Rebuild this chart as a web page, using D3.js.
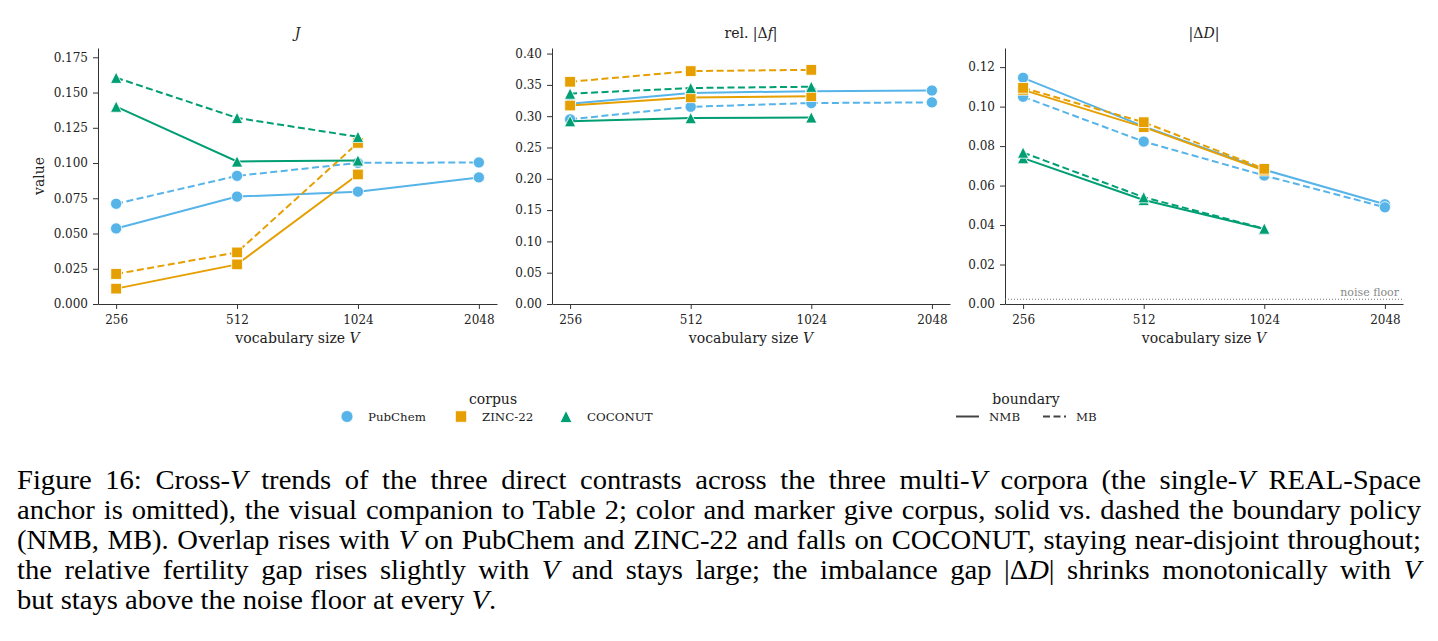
<!DOCTYPE html>
<html>
<head>
<meta charset="utf-8">
<script src="https://cdn.jsdelivr.net/npm/d3@7"></script>
<style>
  body { margin: 0; background: #fff; }
  text { font-family: "DejaVu Serif", serif; }
</style>
</head>
<body>
<svg id="fig" width="1438" height="641"></svg>
<script>
// ---- data ----
var vocab = [256, 512, 1024, 2048];
var corpora = ["PubChem", "ZINC-22", "COCONUT"];
var boundaries = ["NMB", "MB"];

// rows: PubChem, ZINC-22, COCONUT ; columns: 256, 512, 1024, 2048
var jNMB = [[0.0536, 0.0762, 0.0797, 0.0898], [0.0109, 0.0281, 0.0919, null], [0.1400, 0.1011, 0.1018, null]];
var jMB  = [[0.0711, 0.0909, 0.1001, 0.1004], [0.0213, 0.0366, 0.1143, null], [0.1605, 0.1320, 0.1186, null]];

var dfNMB = [[0.320, 0.337, 0.340, 0.341], [0.317, 0.330, 0.332, null], [0.292, 0.297, 0.298, null]];
var dfMB  = [[0.295, 0.315, 0.321, 0.322], [0.355, 0.372, 0.374, null], [0.336, 0.345, 0.347, null]];

var dDNMB = [[0.1146, 0.0900, 0.0680, 0.0505], [0.1085, 0.0896, 0.0676, null], [0.0739, 0.0527, 0.0380, null]];
var dDMB  = [[0.1050, 0.0823, 0.0651, 0.0490], [0.1095, 0.0921, 0.0685, null], [0.0767, 0.0541, 0.0382, null]];

var jTicks = [0, 0.025, 0.05, 0.075, 0.1, 0.125, 0.15, 0.175];
var dfTicks = [0, 0.05, 0.1, 0.15, 0.2, 0.25, 0.3, 0.35, 0.4];
var dDTicks = [0, 0.02, 0.04, 0.06, 0.08, 0.1, 0.12];
var noiseFloor = 0.0024;

var captionLines = [
  [["Figure 16: Cross-", 0], ["V", 1], [" trends of the three direct contrasts across the three multi-", 0], ["V", 1], [" corpora (the single-", 0], ["V", 1], [" REAL-Space", 0]],
  [["anchor is omitted), the visual companion to Table 2; color and marker give corpus, solid vs. dashed the boundary policy", 0]],
  [["(NMB, MB). Overlap rises with ", 0], ["V", 1], [" on PubChem and ZINC-22 and falls on COCONUT, staying near-disjoint throughout;", 0]],
  [["the relative fertility gap rises slightly with ", 0], ["V", 1], [" and stays large; the imbalance gap |\u0394", 0], ["D", 1], ["| shrinks monotonically with ", 0], ["V", 1]],
  [["but stays above the noise floor at every ", 0], ["V", 1], [".", 0]]
];

// ---- style ----
var colors = ["#56B4E9", "#E69F00", "#009E73"];
var axisColor = "#333";

var svg = d3.select("#fig");
svg.append("rect").attr("width", 1438).attr("height", 641).attr("fill", "#fff");

function marker(g, i, cx, cy, s) {
  if (i === 0) {
    g.append("circle").attr("cx", cx).attr("cy", cy).attr("r", s)
      .attr("fill", colors[i]).attr("stroke", "#fff").attr("stroke-width", 0.8);
  } else if (i === 1) {
    g.append("rect").attr("x", cx - s * 0.95).attr("y", cy - s * 0.95)
      .attr("width", s * 1.9).attr("height", s * 1.9)
      .attr("fill", colors[i]).attr("stroke", "#fff").attr("stroke-width", 0.8);
  } else {
    g.append("path")
      .attr("d", "M" + cx + "," + (cy - s) + "L" + (cx - s) + "," + (cy + s) + "L" + (cx + s) + "," + (cy + s) + "Z")
      .attr("fill", colors[i]).attr("stroke", "#fff").attr("stroke-width", 0.8);
  }
}

var panels = [
  { title: [["J", 1]], nmb: jNMB, mb: jMB, ymax: 0.1816, ticks: jTicks, fmt: ".3f", x0: 98, x1: 497, ylabel: true },
  { title: [["rel. |\u0394", 0], ["f", 1], ["|", 0]], nmb: dfNMB, mb: dfMB, ymax: 0.4089, ticks: dfTicks, fmt: ".2f", x0: 552, x1: 950 },
  { title: [["|\u0394", 0], ["D", 1], ["|", 0]], nmb: dDNMB, mb: dDMB, ymax: 0.1297, ticks: dDTicks, fmt: ".2f", x0: 1005, x1: 1403, noise: true }
];

var yTop = 48, yBot = 304;

panels.forEach(function(p) {
  var x = d3.scaleLog().base(2)
    .domain([256 / Math.pow(2, 0.15), 2048 * Math.pow(2, 0.15)])
    .range([p.x0, p.x1]);
  var y = d3.scaleLinear().domain([0, p.ymax]).range([yBot, yTop]);

  var g = svg.append("g");

  var xAxis = d3.axisBottom(x).tickValues(vocab).tickFormat(d3.format("d"))
    .tickSize(5).tickSizeOuter(0).tickPadding(6);
  var yAxis = d3.axisLeft(y).tickValues(p.ticks).tickFormat(d3.format(p.fmt))
    .tickSize(5).tickSizeOuter(0).tickPadding(5);

  var gx = g.append("g").attr("transform", "translate(0," + yBot + ")").call(xAxis);
  var gy = g.append("g").attr("transform", "translate(" + p.x0 + ",0)").call(yAxis);
  [gx, gy].forEach(function(a) {
    a.attr("font-family", null).attr("font-size", null);
    a.select(".domain").attr("stroke", axisColor).attr("stroke-width", 1);
    a.selectAll(".tick line").attr("stroke", axisColor).attr("stroke-width", 1);
    a.selectAll(".tick text").attr("fill", "#222").style("font-size", "12px");
  });

  // noise floor
  if (p.noise) {
    g.append("line").attr("x1", p.x0).attr("x2", p.x1)
      .attr("y1", y(noiseFloor)).attr("y2", y(noiseFloor))
      .attr("stroke", "#777").attr("stroke-width", 1).attr("stroke-dasharray", "1,2");
    g.append("text").attr("x", p.x1 - 4).attr("y", y(noiseFloor) - 3)
      .attr("text-anchor", "end").attr("fill", "#888").style("font-size", "11px")
      .text("noise floor");
  }

  var line = d3.line()
    .defined(function(d) { return d !== null; })
    .x(function(d, i) { return x(vocab[i]); })
    .y(function(d) { return y(d); });

  corpora.forEach(function(c, ci) {
    [p.nmb, p.mb].forEach(function(set, bi) {
      var vals = set[ci];
      g.append("path").attr("d", line(vals)).attr("fill", "none")
        .attr("stroke", colors[ci]).attr("stroke-width", 2)
        .attr("stroke-dasharray", bi === 1 ? "7,3.5" : null);
      vals.forEach(function(v, i) {
        if (v === null) return;
        marker(g, ci, x(vocab[i]), y(v), 5.6);
      });
    });
  });

  // title
  var t = g.append("text").attr("x", (p.x0 + p.x1) / 2).attr("y", 38)
    .attr("text-anchor", "middle").attr("fill", "#222").style("font-size", "14px");
  p.title.forEach(function(s) {
    t.append("tspan").style("font-style", s[1] ? "italic" : "normal").text(s[0]);
  });

  // x label
  var xl = g.append("text").attr("x", (p.x0 + p.x1) / 2).attr("y", 343)
    .attr("text-anchor", "middle").attr("fill", "#222").style("font-size", "14px");
  xl.append("tspan").text("vocabulary size ");
  xl.append("tspan").style("font-style", "italic").text("V");

  if (p.ylabel) {
    g.append("text").attr("transform", "translate(44," + ((yTop + yBot) / 2) + ") rotate(-90)")
      .attr("text-anchor", "middle").attr("fill", "#222").style("font-size", "14px")
      .text("value");
  }
});

// ---- legends ----
var leg = svg.append("g");
leg.append("text").attr("x", 493).attr("y", 404).attr("text-anchor", "middle")
  .attr("fill", "#222").style("font-size", "14px").text("corpus");
var corpusX = [347, 461, 566];
corpora.forEach(function(c, i) {
  marker(leg, i, corpusX[i], 416.5, 6);
  leg.append("text").attr("x", corpusX[i] + 21).attr("y", 421)
    .attr("fill", "#222").style("font-size", "11.8px").text(c);
});

leg.append("text").attr("x", 1026).attr("y", 404).attr("text-anchor", "middle")
  .attr("fill", "#222").style("font-size", "14px").text("boundary");
var boundX = [956, 1043];
boundaries.forEach(function(b, i) {
  leg.append("line").attr("x1", boundX[i]).attr("x2", boundX[i] + 23)
    .attr("y1", 416.5).attr("y2", 416.5).attr("stroke", "#444").attr("stroke-width", 2)
    .attr("stroke-dasharray", i === 1 ? "7,3.5" : null);
  leg.append("text").attr("x", boundX[i] + 33).attr("y", 421)
    .attr("fill", "#222").style("font-size", "11.8px").text(b);
});

// ---- caption (Times, justified) ----
var capLeft = 17, capRight = 1421, capSx = 1.06;
captionLines.forEach(function(segs, li) {
  var t = svg.append("text")
    .attr("transform", "translate(" + capLeft + "," + (489 + li * 30) + ") scale(" + capSx + ",1)")
    .attr("fill", "#000")
    .style("font-family", "'Liberation Serif', 'Times New Roman', serif")
    .style("font-size", "27px");
  segs.forEach(function(s) {
    t.append("tspan").style("font-style", s[1] ? "italic" : "normal").text(s[0]);
  });
  if (li < captionLines.length - 1) {
    var w = t.node().getComputedTextLength();
    var txt = segs.map(function(s) { return s[0]; }).join("");
    var spaces = (txt.match(/ /g) || []).length;
    t.style("word-spacing", (((capRight - capLeft) / capSx - w) / spaces) + "px");
  }
});
</script>
</body>
</html>
